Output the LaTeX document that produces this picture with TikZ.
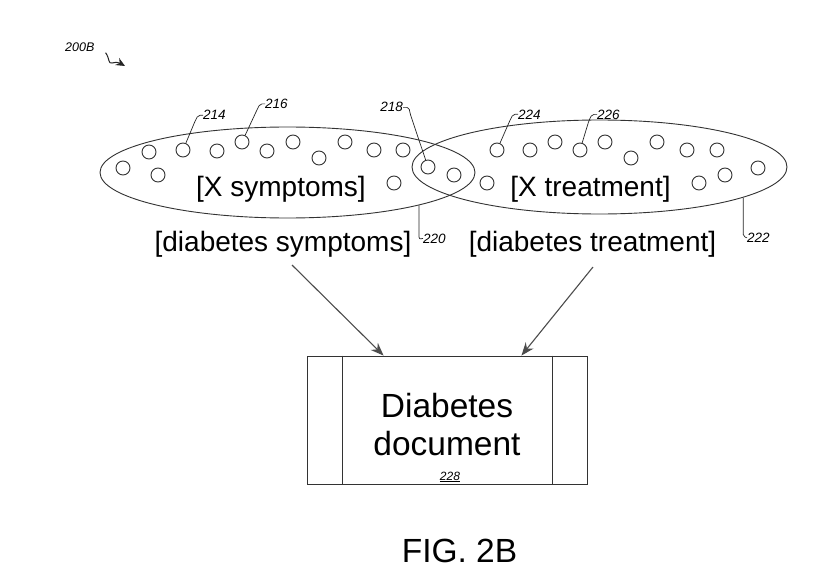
\documentclass[tikz,border=0pt]{standalone}
\usepackage{fontspec}
\setmainfont{Liberation Sans}
\usetikzlibrary{shapes.geometric,arrows.meta,calc}
\begin{document}
\begin{tikzpicture}[x=1pt,y=-1pt,
  ln/.style={draw=black!80, line width=0.9pt},
  dot/.style={circle, ln, minimum size=14pt, inner sep=0pt},
  oval/.style={ellipse, ln, inner sep=0pt},
  big/.style={font=\fontsize{28}{30}\selectfont, inner sep=0pt, anchor=base},
  huge/.style={font=\fontsize{33.5}{36}\selectfont, inner sep=0pt, anchor=base},
  refw/.style={font=\fontsize{13.5}{15}\selectfont\itshape, inner sep=0pt, anchor=base west},
  refe/.style={font=\fontsize{13.5}{15}\selectfont\itshape, inner sep=0pt, anchor=base east},
  lead/.style={draw=black!85, line width=0.7pt, rounded corners=2pt},
  arr/.style={draw=black!70, line width=1.1pt, -{Stealth[length=13pt,width=10pt]}},
  docbox/.style={draw=black!80, line width=0.9pt, minimum width=280pt, minimum height=128pt, inner sep=0pt}
]
\fill[white] (0,0) rectangle (828,578);
\useasboundingbox (0,0) rectangle (828,578);

% figure reference
\node[refw, font=\fontsize{12.5}{14}\selectfont\itshape] (l200) at (65,52) {200B};
\coordinate (a200) at (125,66);
\draw[draw=black!85, line width=1pt, -{Stealth[length=9pt,width=8pt]}]
  ($(l200.east)+(11,5)$) .. controls (110,59) and (108,64) .. (112,63)
  .. controls (115,62) and (118,62) .. (a200);

% ellipses
\node[oval, minimum width=375pt, minimum height=91pt] (e1) at (287.5,172.5) {};
\node[oval, minimum width=375pt, minimum height=94pt] (e2) at (599.5,167) {};

% circles of the left set
\foreach \n/\x/\y in {1/123/168, 2/149/152, 3/158/175, 4/183/150, 5/217/151,
  6/242/142, 7/267/151, 8/293/142, 9/319/158, 10/345/142, 11/374/150,
  12/403/150, 13/394/183, 14/428/167, 15/454/175}
  \node[dot] (c\n) at (\x,\y) {};
% circles of the right set
\foreach \n/\x/\y in {1/487/183, 2/497/150, 3/530/150, 4/555/142, 5/580/150,
  6/605/142, 7/631/158, 8/657/142, 9/687/150, 10/717/150, 11/699/183,
  12/725/175, 13/758/168}
  \node[dot] (d\n) at (\x,\y) {};

% texts
\node[big] (xsym) at (281,196) {[X symptoms]};
\node[big] (xtreat) at (590.5,196) {[X treatment]};
\node[big] (dsym) at (283,251) {[diabetes symptoms]};
\node[big] (dtreat) at (592.5,251) {[diabetes treatment]};

% reference numerals
\node[refw] (l214) at (203,120) {214};
\node[refw] (l216) at (265,108.5) {216};
\node[refe] (l218) at (403,112) {218};
\node[refw] (l224) at (518,119) {224};
\node[refw] (l226) at (597,119) {226};
\node[refw] (l220) at (423,243) {220};
\node[refw] (l222) at (747,242.5) {222};

\draw[lead] (l214.west) -- ++(-5,0) -- ++(-3,6) -- (c4);
\draw[lead] (l216.west) -- ++(-5,0) -- ++(-3,6) -- (c6);
\draw[lead] (l224.west) -- ++(-5,0) -- ++(-3,6) -- (d2);
\draw[lead] (l226.west) -- ++(-5,0) -- ++(-3,6) -- (d5);
\draw[lead] (l218.east) -- ++(6,0) -- ++(1,6) -- (c14);
\draw[lead] (e1.-14) -- ++(0,34) -- (l220.west);
\draw[lead] (e2.-12.9) -- ++(0,39) -- (l222.west);

% document box
\node[docbox] (doc) at (447,420) {};
\draw[ln] ($(doc.north west)+(36,0)$) -- ($(doc.south west)+(36,0)$);
\draw[ln] ($(doc.north east)+(-35,0)$) -- ($(doc.south east)+(-35,0)$);
\node[huge] (t1) at (447,417) {Diabetes};
\node[huge] (t2) at (447,455) {document};
\node[font=\fontsize{12}{14}\selectfont\itshape, inner sep=0pt, anchor=base] (l228) at (450,480) {\underline{228}};

% arrows
\draw[arr] ($(dsym.south)+(9,8)$) -- ($(doc.north west)+(77,0)$);
\draw[arr] ($(dtreat.south)+(0.5,10)$) -- ($(doc.north east)+(-66,0)$);

% caption
\node[huge] (fig) at (459.5,562) {FIG. 2B};
\end{tikzpicture}
\end{document}
